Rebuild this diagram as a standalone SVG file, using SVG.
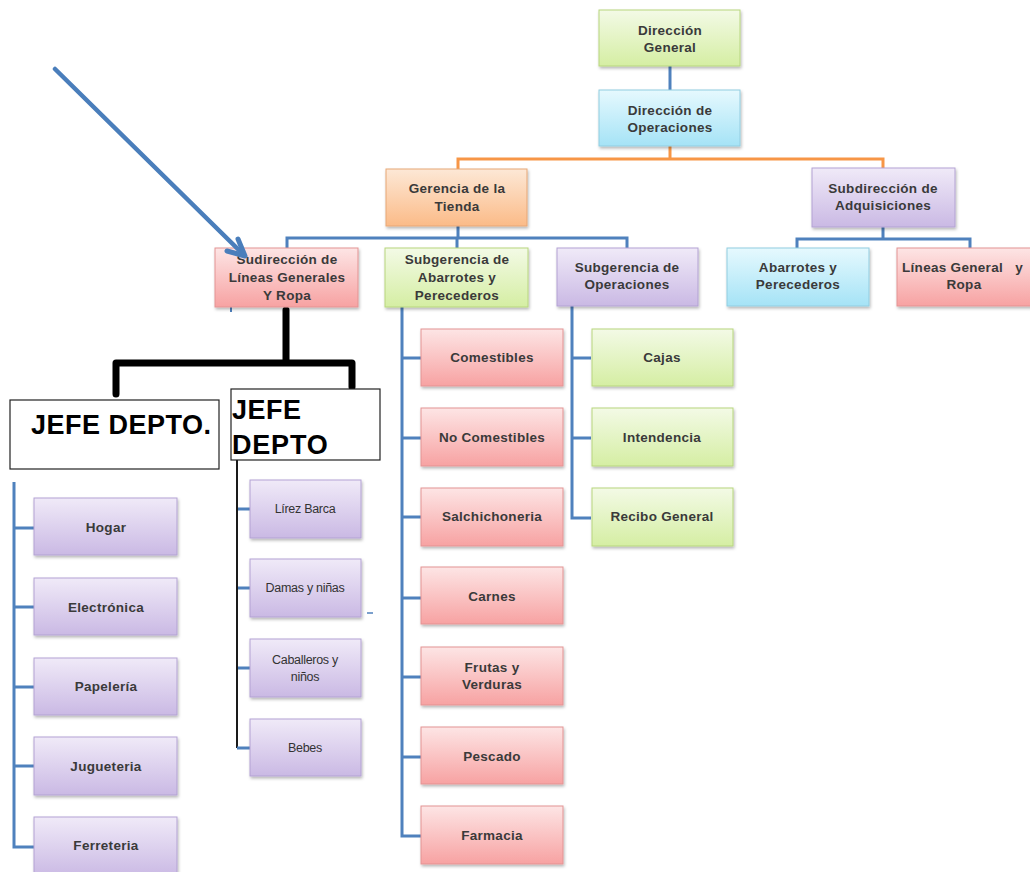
<svg xmlns="http://www.w3.org/2000/svg" width="1030" height="872" viewBox="0 0 1030 872">
  <defs>
    <linearGradient id="gGreen" x1="0" y1="0" x2="0" y2="1">
      <stop offset="0" stop-color="#f3fae6"/>
      <stop offset="1" stop-color="#d5eea3"/>
    </linearGradient>
    <linearGradient id="gBlue" x1="0" y1="0" x2="0" y2="1">
      <stop offset="0" stop-color="#e6f9fe"/>
      <stop offset="1" stop-color="#a5e3f6"/>
    </linearGradient>
    <linearGradient id="gOrange" x1="0" y1="0" x2="0" y2="1">
      <stop offset="0" stop-color="#fde8d6"/>
      <stop offset="1" stop-color="#fbbb88"/>
    </linearGradient>
    <linearGradient id="gPurple" x1="0" y1="0" x2="0" y2="1">
      <stop offset="0" stop-color="#f0eaf8"/>
      <stop offset="1" stop-color="#cab9e4"/>
    </linearGradient>
    <linearGradient id="gRed" x1="0" y1="0" x2="0" y2="1">
      <stop offset="0" stop-color="#fde5e5"/>
      <stop offset="1" stop-color="#f7a2a2"/>
    </linearGradient>
    <filter id="shadow" x="-10%" y="-10%" width="125%" height="135%">
      <feDropShadow dx="1" dy="2" stdDeviation="1.5" flood-color="#000" flood-opacity="0.28"/>
    </filter>
  </defs>
  <style>
    .box { stroke-width: 1; filter: url(#shadow); }
    .green { fill: url(#gGreen); stroke: #b7d67e; }
    .blue { fill: url(#gBlue); stroke: #92cde0; }
    .orange { fill: url(#gOrange); stroke: #e7a777; }
    .purple { fill: url(#gPurple); stroke: #b3a2d3; }
    .red { fill: url(#gRed); stroke: #e39393; }
    .lbl { font-family: "Liberation Sans", Arial, sans-serif; font-weight: bold; font-size: 13.5px; fill: #3a3a3a; text-anchor: middle; letter-spacing: 0.3px; }
    .lbl.left { text-anchor: start; }
    .thin { font-family: "Liberation Sans", Arial, sans-serif; font-size: 12.5px; fill: #333; text-anchor: middle; letter-spacing: -0.3px; }
    .jefe { font-family: "Liberation Sans", Arial, sans-serif; font-weight: bold; font-size: 27px; fill: #000; }
    .wire { fill: none; stroke: #4f81bd; stroke-width: 3; }
    .wireOrange { fill: none; stroke: #f79646; stroke-width: 3; }
    .wireBlack { fill: none; stroke: #000; stroke-width: 7; stroke-linejoin: round; stroke-linecap: round; }
    .jefeBox { fill: #fff; stroke: #222; stroke-width: 1.2; }
    .pointer { fill: none; stroke: #4a7ebb; stroke-linecap: round; stroke-linejoin: round; }
  </style>

  <!-- connectors -->
  <g id="connectors">
    <path class="wire" d="M670,66 V90"/>
    <path class="wireOrange" d="M670,146 V159 M458,169 V159 H883 V168"/>
    <path class="wire" d="M458,226 V238 M287,248 V238 H627 V248 M457,238 V248"/>
    <path class="wire" d="M883,227 V239 M797,248 V239 H970 V248"/>
    <!-- abarrotes column -->
    <path class="wire" d="M402,307 V836 H421 M402,358 H421 M402,438 H421 M402,517 H421 M402,598 H421 M402,677 H421 M402,757 H421"/>
    <!-- operaciones column -->
    <path class="wire" d="M572,306 V518 H591 M572,358 H591 M572,438 H591"/>
    <!-- first department -->
    <path class="wire" d="M14,482 V847 H34 M14,528 H34 M14,607 H34 M14,687 H34 M14,766 H34"/>
    <!-- second department -->
    <path d="M237,460 V748" fill="none" stroke="#1a1a1a" stroke-width="2"/>
    <path class="wire" d="M237,748 H250 M238,509 H250 M238,588 H250 M238,668 H250"/>
    <path d="M367,613 H373" stroke="#4f81bd" stroke-width="1.5"/>
    <path d="M231,305 V312" stroke="#4f81bd" stroke-width="2"/>
    <!-- heavy black branch -->
    <path class="wireBlack" d="M286,310 V363 M116,394 V363 H352 V387"/>
  </g>

  <g id="direccion-general">
    <rect class="box green" x="599" y="10" width="141" height="56"/>
    <text class="lbl" x="670" y="35">Dirección</text>
    <text class="lbl" x="670" y="52">General</text>
  </g>
  <g id="direccion-operaciones">
    <rect class="box blue" x="599" y="90" width="141" height="56"/>
    <text class="lbl" x="670" y="115">Dirección de</text>
    <text class="lbl" x="670" y="132">Operaciones</text>
  </g>
  <g id="gerencia-tienda">
    <rect class="box orange" x="386" y="169" width="141" height="57"/>
    <text class="lbl" x="457" y="193">Gerencia de la</text>
    <text class="lbl" x="457" y="211">Tienda</text>
  </g>
  <g id="subdireccion-adquisiciones">
    <rect class="box purple" x="812" y="168" width="143" height="59"/>
    <text class="lbl" x="883" y="193">Subdirección de</text>
    <text class="lbl" x="883" y="210">Adquisiciones</text>
  </g>
  <g id="sudireccion-lineas">
    <rect class="box red" x="215" y="248" width="143" height="59"/>
    <text class="lbl" x="287" y="264">Sudirección de</text>
    <text class="lbl" x="287" y="282">Líneas Generales</text>
    <text class="lbl" x="287" y="300">Y Ropa</text>
  </g>
  <g id="subgerencia-abarrotes">
    <rect class="box green" x="385" y="248" width="143" height="59"/>
    <text class="lbl" x="457" y="264">Subgerencia de</text>
    <text class="lbl" x="457" y="282">Abarrotes y</text>
    <text class="lbl" x="457" y="300">Perecederos</text>
  </g>
  <g id="subgerencia-operaciones">
    <rect class="box purple" x="557" y="248" width="141" height="58"/>
    <text class="lbl" x="627" y="272">Subgerencia de</text>
    <text class="lbl" x="627" y="289">Operaciones</text>
  </g>
  <g id="adq-abarrotes">
    <rect class="box blue" x="727" y="248" width="142" height="58"/>
    <text class="lbl" x="798" y="272">Abarrotes y</text>
    <text class="lbl" x="798" y="289">Perecederos</text>
  </g>
  <g id="adq-lineas">
    <rect class="box red" x="897" y="248" width="145" height="58"/>
    <text class="lbl left" x="902" y="272" xml:space="preserve">Líneas General   y</text>
    <text class="lbl" x="964" y="289">Ropa</text>
  </g>

  <!-- department heads -->
  <g id="jefe-depto-1">
    <rect class="jefeBox" x="10" y="400" width="209" height="69"/>
    <text class="jefe" x="31" y="434" letter-spacing="0.5">JEFE DEPTO.</text>
  </g>
  <g id="jefe-depto-2">
    <rect class="jefeBox" x="231" y="389" width="149" height="71"/>
    <text class="jefe" x="232" y="419" letter-spacing="0.5">JEFE</text>
    <text class="jefe" x="232" y="454" letter-spacing="0.8">DEPTO</text>
  </g>

  <!-- first department areas -->
  <g id="hogar">
    <rect class="box purple" x="34" y="498" width="143" height="57"/>
    <text class="lbl" x="106" y="532">Hogar</text>
  </g>
  <g id="electronica">
    <rect class="box purple" x="34" y="578" width="143" height="57"/>
    <text class="lbl" x="106" y="612">Electrónica</text>
  </g>
  <g id="papeleria">
    <rect class="box purple" x="34" y="658" width="143" height="57"/>
    <text class="lbl" x="106" y="691">Papelería</text>
  </g>
  <g id="jugueteria">
    <rect class="box purple" x="34" y="737" width="143" height="58"/>
    <text class="lbl" x="106" y="771">Jugueteria</text>
  </g>
  <g id="ferreteria">
    <rect class="box purple" x="34" y="817" width="143" height="60"/>
    <text class="lbl" x="106" y="850">Ferreteria</text>
  </g>

  <!-- second department areas -->
  <g id="linea-barca">
    <rect class="box purple" x="250" y="480" width="111" height="58"/>
    <text class="thin" x="305" y="513">Lírez Barca</text>
  </g>
  <g id="damas">
    <rect class="box purple" x="250" y="559" width="111" height="58"/>
    <text class="thin" x="305" y="592">Damas y niñas</text>
  </g>
  <g id="caballeros">
    <rect class="box purple" x="250" y="639" width="111" height="58"/>
    <text class="thin" x="305" y="664">Caballeros y</text>
    <text class="thin" x="305" y="681">niños</text>
  </g>
  <g id="bebes">
    <rect class="box purple" x="250" y="719" width="111" height="57"/>
    <text class="thin" x="305" y="752">Bebes</text>
  </g>

  <!-- abarrotes areas -->
  <g id="comestibles">
    <rect class="box red" x="421" y="329" width="142" height="57"/>
    <text class="lbl" x="492" y="362">Comestibles</text>
  </g>
  <g id="no-comestibles">
    <rect class="box red" x="421" y="408" width="142" height="58"/>
    <text class="lbl" x="492" y="442">No Comestibles</text>
  </g>
  <g id="salchichoneria">
    <rect class="box red" x="421" y="488" width="142" height="58"/>
    <text class="lbl" x="492" y="521">Salchichoneria</text>
  </g>
  <g id="carnes">
    <rect class="box red" x="421" y="567" width="142" height="57"/>
    <text class="lbl" x="492" y="601">Carnes</text>
  </g>
  <g id="frutas">
    <rect class="box red" x="421" y="647" width="142" height="58"/>
    <text class="lbl" x="492" y="672">Frutas y</text>
    <text class="lbl" x="492" y="689">Verduras</text>
  </g>
  <g id="pescado">
    <rect class="box red" x="421" y="727" width="142" height="57"/>
    <text class="lbl" x="492" y="761">Pescado</text>
  </g>
  <g id="farmacia">
    <rect class="box red" x="421" y="806" width="142" height="58"/>
    <text class="lbl" x="492" y="840">Farmacia</text>
  </g>

  <!-- operaciones areas -->
  <g id="cajas">
    <rect class="box green" x="592" y="329" width="141" height="57"/>
    <text class="lbl" x="662" y="362">Cajas</text>
  </g>
  <g id="intendencia">
    <rect class="box green" x="592" y="408" width="141" height="58"/>
    <text class="lbl" x="662" y="442">Intendencia</text>
  </g>
  <g id="recibo-general">
    <rect class="box green" x="592" y="488" width="141" height="58"/>
    <text class="lbl" x="662" y="521">Recibo General</text>
  </g>

  <!-- pointer arrow, drawn over the boxes -->
  <g id="pointer">
    <line class="pointer" x1="55" y1="69" x2="244" y2="255" stroke-width="4.5"/>
    <polyline class="pointer" points="238,239 245,256 227,251" stroke-width="5"/>
  </g>
</svg>
